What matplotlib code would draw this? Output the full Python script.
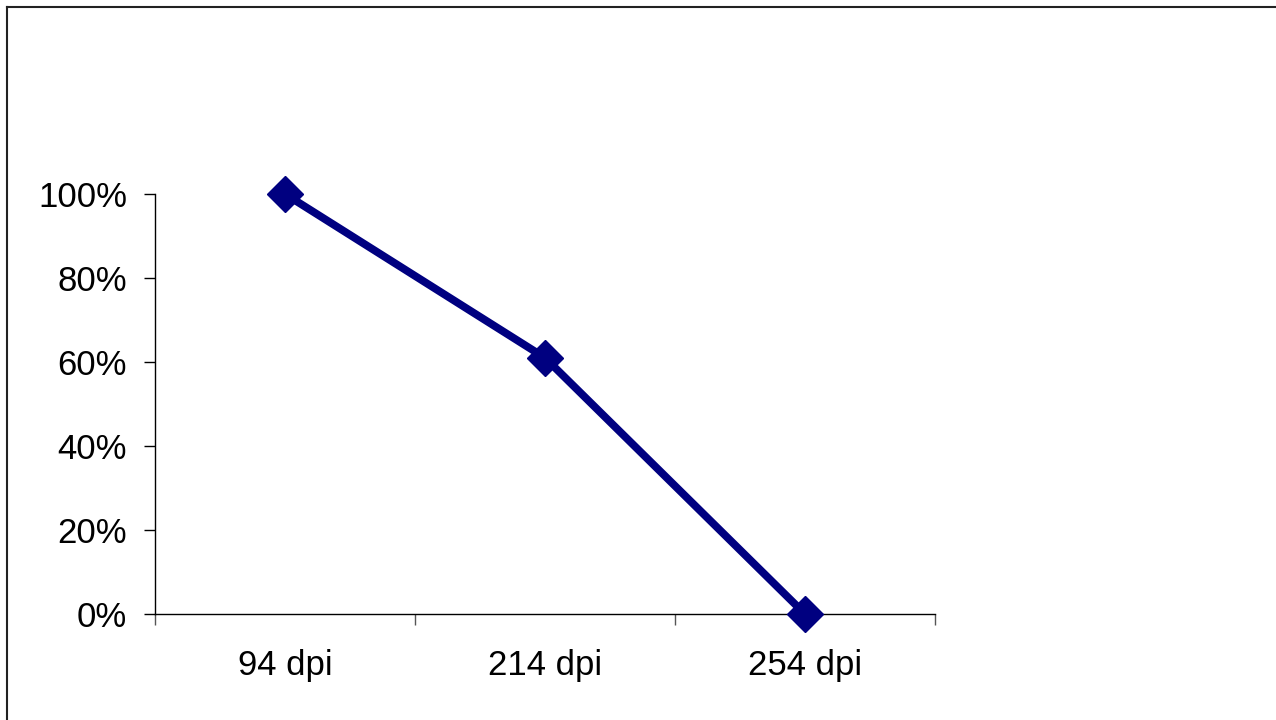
import matplotlib.pyplot as plt
from matplotlib.lines import Line2D

plt.rcParams["font.family"] = ["Liberation Sans", "DejaVu Sans"]

categories = ["94 dpi", "214 dpi", "254 dpi"]
share = [1.00, 0.61, 0.00]
y_ticks = [0.0, 0.2, 0.4, 0.6, 0.8, 1.0]
y_labels = ["0%", "20%", "40%", "60%", "80%", "100%"]

fig = plt.figure(figsize=(12.76, 7.2), dpi=100)

# outer frame (only top and left edges visible in the original)
fig.add_artist(Line2D([6.5 / 1276, 6.5 / 1276], [0, 1 - 6.5 / 720], color="#222222", lw=1.5))
fig.add_artist(Line2D([6.5 / 1276, 1], [1 - 6.5 / 720, 1 - 6.5 / 720], color="#222222", lw=1.5))

ax = fig.add_axes([155 / 1276, 1 - 614 / 720, 780 / 1276, 420 / 720])
x = list(range(len(categories)))
ax.plot(x, share, color="#000080", lw=5.6, marker="D", ms=18,
        markerfacecolor="#000080", markeredgecolor="#000080", clip_on=False, zorder=3)

ax.set_xlim(-0.5, len(categories) - 0.5)
ax.set_ylim(0, 1)
ax.set_yticks(y_ticks)
ax.set_yticklabels(y_labels, fontsize=25)
ax.set_xticks([i - 0.5 for i in range(len(categories) + 1)])
ax.set_xticklabels([])
ax.set_xticks(x, minor=True)
ax.set_xticklabels(categories, minor=True, fontsize=25)
ax.tick_params(axis="x", which="major", length=8, width=1, color="#555555", direction="out")
ax.tick_params(axis="x", which="minor", length=0, pad=25)
ax.tick_params(axis="y", length=8, width=1, color="black", pad=12)

for s in ["top", "right"]:
    ax.spines[s].set_visible(False)
for s in ["left", "bottom"]:
    ax.spines[s].set_linewidth(1)
    ax.spines[s].set_color("black")

fig.savefig("out.png", dpi=100)
